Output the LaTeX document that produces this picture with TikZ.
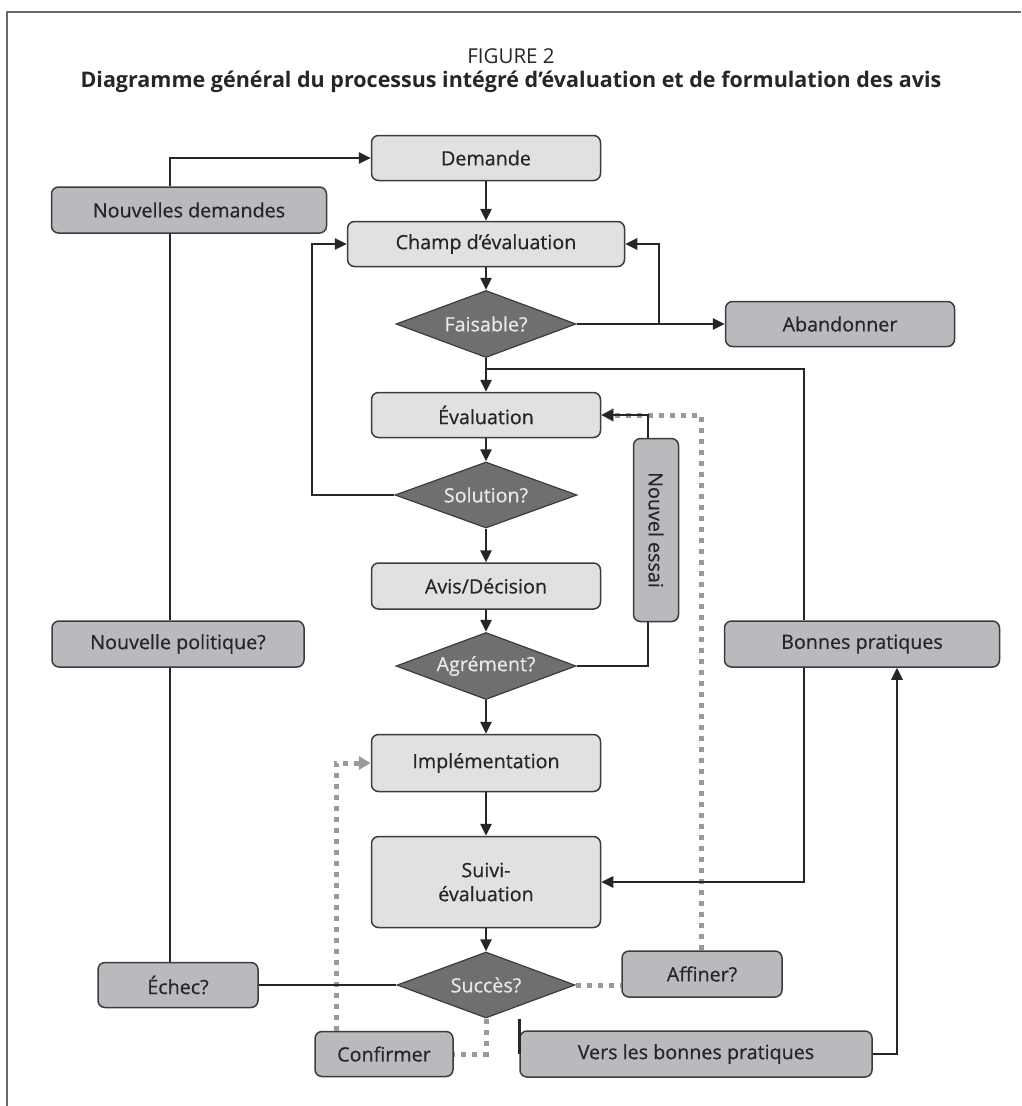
\documentclass[tikz,border=0pt]{standalone}
\usepackage{fontspec}
\usepackage{graphicx}
\setmainfont{Open Sans}
\usetikzlibrary{arrows.meta,shapes.geometric,calc}
\definecolor{lightbox}{HTML}{E1E1E3}
\definecolor{darkbox}{HTML}{B9BABE}
\definecolor{diafill}{HTML}{6F6F71}
\definecolor{edge}{HTML}{3C3C3C}
\definecolor{ink}{HTML}{262626}
\definecolor{dotgray}{HTML}{9A9A9A}
\definecolor{framegray}{HTML}{6A6A6A}
\definecolor{diatext}{HTML}{E8E8E8}

\begin{document}
\begin{tikzpicture}[x=1pt,y=-1pt,
  txt/.style={font=\fontsize{19.7}{24}\selectfont\addfontfeature{FakeBold=0.6}},
  box/.style={draw=edge, line width=1.5pt, rounded corners=7pt, inner sep=0pt,
    txt, text=ink, align=center},
  mainbox/.style={box, fill=lightbox, minimum width=229pt, minimum height=45pt},
  sidebox/.style={box, fill=darkbox, minimum height=46pt},
  decision/.style={diamond, aspect=2.8, draw=edge, line width=1.2pt, fill=diafill, text=diatext,
    minimum width=180pt, minimum height=67pt, inner sep=0pt, txt},
  flow/.style={draw=ink, line width=2.6pt, -{Triangle[length=12pt,width=11pt]}},
  link/.style={draw=ink, line width=2.6pt},
  dots/.style={draw=dotgray, line width=5pt, dash pattern=on 5pt off 6pt},
  dotflow/.style={dots, -{Triangle[length=12pt,width=13pt,fill=dotgray]}},
]
\useasboundingbox (0,0) rectangle (1021,1106);

% frame
\draw[framegray, line width=2pt] (7,1106) -- (7,12) -- (1021,12);

% heading
\node[anchor=base, text=ink, font=\fontsize{20.5}{24}\selectfont] (fig) at (511,63) {FIGURE 2};
\node[anchor=base, text=ink, font=\fontsize{21.5}{26}\selectfont\bfseries] (ttl) at (511,87)
  {Diagramme général du processus intégré d’évaluation et de formulation des avis};

% main column
\node[mainbox] (demande) at (486,158) {Demande};
\node[mainbox, minimum width=277pt] (champ) at (486,244) {Champ d’évaluation};
\node[decision] (faisable) at (486,324) {Faisable?};
\node[mainbox] (evaluation) at (486,415) {Évaluation};
\node[decision, minimum width=182pt, minimum height=66pt] (solution) at (486,495) {Solution?};
\node[mainbox, minimum height=46pt] (avis) at (486,586) {Avis/Décision};
\node[decision] (agrement) at (486,666) {Agrément?};
\node[mainbox, minimum height=57pt] (impl) at (486,763) {Implémentation};
\node[mainbox, minimum height=91pt] (suivi) at (486,882) {Suivi-\\évaluation};
\node[decision, minimum width=178pt, minimum height=66pt] (succes) at (486,985) {Succès?};

% side boxes
\node[sidebox, minimum width=275pt] (nouvdem) at (189,210) {Nouvelles demandes};
\node[sidebox, minimum width=229pt, minimum height=45pt] (abandon) at (840,324) {Abandonner};
\node[sidebox, minimum width=252pt] (nouvpol) at (178,644) {Nouvelle politique?};
\node[sidebox, minimum width=275pt] (bonnes) at (862,644) {Bonnes pratiques};
\node[sidebox, minimum width=45pt, minimum height=183pt] (essai) at (656,530) {\rotatebox{-90}{Nouvel essai}};
\node[sidebox, minimum width=160pt, minimum height=45pt] (echec) at (178,985) {Échec?};
\node[sidebox, minimum width=160pt] (affiner) at (702,974) {Affiner?};
\node[sidebox, minimum width=138pt, minimum height=45pt] (confirmer) at (384,1054) {Confirmer};
\node[sidebox, minimum width=352pt] (vers) at (696,1054) {Vers les bonnes pratiques};

% routing columns and bends
\coordinate (colL) at (312,0);
\coordinate (colN) at (170,0);
\coordinate (colJ) at (659,0);
\coordinate (colE) at (648,0);
\coordinate (colB) at (804,0);
\coordinate (colR) at (897,0);
\coordinate (colC) at (336,0);
\coordinate (colA) at (701,0);
\coordinate (merge) at (486,369);

% dotted feedback loops (drawn beneath the solid ones)
\draw[dots] (succes.east) -- (succes.east -| affiner.west);
\draw[dotflow] (affiner.north -| colA) |- (evaluation.east);
\draw[dots] (succes.south) |- (confirmer.east);
\draw[dotflow] (confirmer.north -| colC) |- (impl.west);

% main flow
\draw[flow] (demande) -- (champ);
\draw[flow] (champ) -- (faisable);
\draw[flow] (faisable) -- (evaluation);
\draw[flow] (evaluation) -- (solution);
\draw[flow] (solution) -- (avis);
\draw[flow] (avis) -- (agrement);
\draw[flow] (agrement) -- (impl);
\draw[flow] (impl) -- (suivi);
\draw[flow] (suivi) -- (succes);

% feasibility branch
\draw[flow] (faisable.east) -- (abandon.west);
\draw[flow] (faisable.east -| colJ) |- (champ.east);

% no solution: back to the scope
\draw[flow] (solution.west) -- (solution.west -| colL) -- (colL |- champ.west) -- (champ.west);

% no agreement: new attempt
\draw[link] (agrement.east) -| (colE |- essai.south);
\draw[flow] (colE |- essai.north) |- (evaluation.east);

% good practices
\draw[link] (colB |- bonnes.north) |- (merge);
\draw[flow] (colB |- bonnes.south) |- (suivi.east);
\draw[flow] (vers.east) -| (colR |- bonnes.south);
\draw[link] (vers.west |- succes.south) -- (vers.west);

% failure: new policy and new requests
\draw[link] (succes.west) -- (echec.east);
\draw[link] (colN |- echec.north) -- (colN |- nouvpol.south);
\draw[link] (colN |- nouvpol.north) -- (colN |- nouvdem.south);
\draw[flow] (colN |- nouvdem.north) |- (demande.west);
\end{tikzpicture}
\end{document}
